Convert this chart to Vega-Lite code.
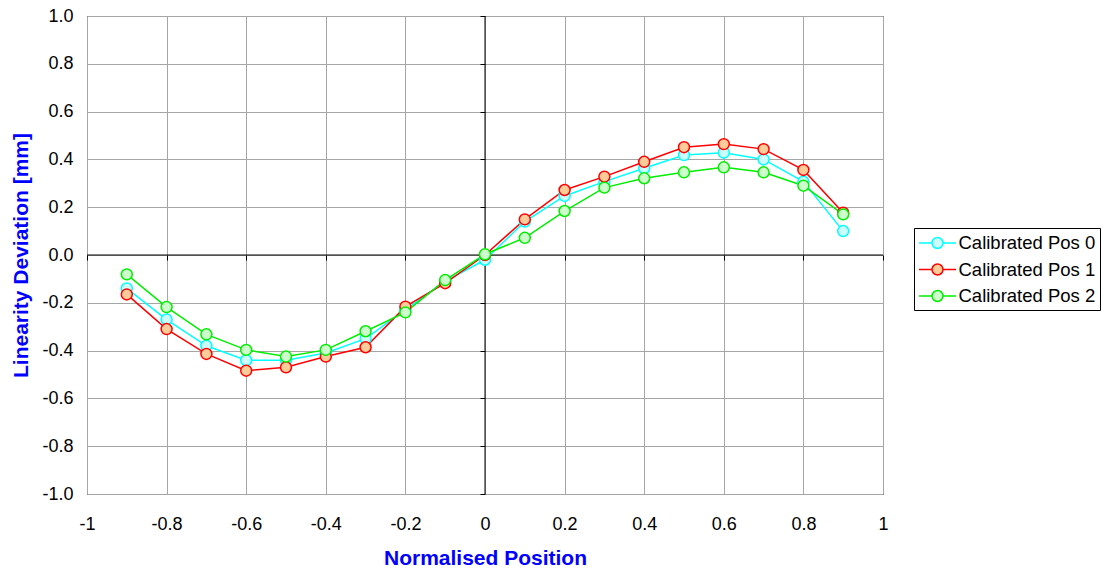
{
  "$schema": "https://vega.github.io/schema/vega-lite/v6.json",
  "width": 796,
  "height": 478,
  "autosize": "none",
  "padding": {"left": 87, "top": 16, "right": 220, "bottom": 78},
  "background": "white",
  "config": {
    "view": {"stroke": "black", "strokeWidth": 1},
    "font": "Liberation Sans"
  },
  "resolve": {"axis": {"x": "independent", "y": "independent"}},
  "data": {
    "values": [
      {"pos": -0.9, "dev": -0.14, "series": "Calibrated Pos 0"},
      {"pos": -0.8, "dev": -0.27, "series": "Calibrated Pos 0"},
      {"pos": -0.7, "dev": -0.38, "series": "Calibrated Pos 0"},
      {"pos": -0.6, "dev": -0.44, "series": "Calibrated Pos 0"},
      {"pos": -0.5, "dev": -0.44, "series": "Calibrated Pos 0"},
      {"pos": -0.4, "dev": -0.41, "series": "Calibrated Pos 0"},
      {"pos": -0.3, "dev": -0.35, "series": "Calibrated Pos 0"},
      {"pos": -0.2, "dev": -0.23, "series": "Calibrated Pos 0"},
      {"pos": -0.1, "dev": -0.11, "series": "Calibrated Pos 0"},
      {"pos": 0.0, "dev": -0.02, "series": "Calibrated Pos 0"},
      {"pos": 0.1, "dev": 0.14, "series": "Calibrated Pos 0"},
      {"pos": 0.2, "dev": 0.247, "series": "Calibrated Pos 0"},
      {"pos": 0.3, "dev": 0.307, "series": "Calibrated Pos 0"},
      {"pos": 0.4, "dev": 0.363, "series": "Calibrated Pos 0"},
      {"pos": 0.5, "dev": 0.418, "series": "Calibrated Pos 0"},
      {"pos": 0.6, "dev": 0.428, "series": "Calibrated Pos 0"},
      {"pos": 0.7, "dev": 0.40, "series": "Calibrated Pos 0"},
      {"pos": 0.8, "dev": 0.307, "series": "Calibrated Pos 0"},
      {"pos": 0.9, "dev": 0.10, "series": "Calibrated Pos 0"},
      {"pos": -0.9, "dev": -0.165, "series": "Calibrated Pos 1"},
      {"pos": -0.8, "dev": -0.31, "series": "Calibrated Pos 1"},
      {"pos": -0.7, "dev": -0.414, "series": "Calibrated Pos 1"},
      {"pos": -0.6, "dev": -0.484, "series": "Calibrated Pos 1"},
      {"pos": -0.5, "dev": -0.47, "series": "Calibrated Pos 1"},
      {"pos": -0.4, "dev": -0.425, "series": "Calibrated Pos 1"},
      {"pos": -0.3, "dev": -0.386, "series": "Calibrated Pos 1"},
      {"pos": -0.2, "dev": -0.216, "series": "Calibrated Pos 1"},
      {"pos": -0.1, "dev": -0.118, "series": "Calibrated Pos 1"},
      {"pos": 0.0, "dev": 0.0, "series": "Calibrated Pos 1"},
      {"pos": 0.1, "dev": 0.149, "series": "Calibrated Pos 1"},
      {"pos": 0.2, "dev": 0.272, "series": "Calibrated Pos 1"},
      {"pos": 0.3, "dev": 0.328, "series": "Calibrated Pos 1"},
      {"pos": 0.4, "dev": 0.39, "series": "Calibrated Pos 1"},
      {"pos": 0.5, "dev": 0.451, "series": "Calibrated Pos 1"},
      {"pos": 0.6, "dev": 0.464, "series": "Calibrated Pos 1"},
      {"pos": 0.7, "dev": 0.443, "series": "Calibrated Pos 1"},
      {"pos": 0.8, "dev": 0.356, "series": "Calibrated Pos 1"},
      {"pos": 0.9, "dev": 0.177, "series": "Calibrated Pos 1"},
      {"pos": -0.9, "dev": -0.081, "series": "Calibrated Pos 2"},
      {"pos": -0.8, "dev": -0.218, "series": "Calibrated Pos 2"},
      {"pos": -0.7, "dev": -0.332, "series": "Calibrated Pos 2"},
      {"pos": -0.6, "dev": -0.397, "series": "Calibrated Pos 2"},
      {"pos": -0.5, "dev": -0.425, "series": "Calibrated Pos 2"},
      {"pos": -0.4, "dev": -0.397, "series": "Calibrated Pos 2"},
      {"pos": -0.3, "dev": -0.319, "series": "Calibrated Pos 2"},
      {"pos": -0.2, "dev": -0.24, "series": "Calibrated Pos 2"},
      {"pos": -0.1, "dev": -0.105, "series": "Calibrated Pos 2"},
      {"pos": 0.0, "dev": 0.003, "series": "Calibrated Pos 2"},
      {"pos": 0.1, "dev": 0.072, "series": "Calibrated Pos 2"},
      {"pos": 0.2, "dev": 0.184, "series": "Calibrated Pos 2"},
      {"pos": 0.3, "dev": 0.282, "series": "Calibrated Pos 2"},
      {"pos": 0.4, "dev": 0.321, "series": "Calibrated Pos 2"},
      {"pos": 0.5, "dev": 0.346, "series": "Calibrated Pos 2"},
      {"pos": 0.6, "dev": 0.367, "series": "Calibrated Pos 2"},
      {"pos": 0.7, "dev": 0.346, "series": "Calibrated Pos 2"},
      {"pos": 0.8, "dev": 0.29, "series": "Calibrated Pos 2"},
      {"pos": 0.9, "dev": 0.17, "series": "Calibrated Pos 2"}
    ]
  },
  "layer": [
    {
      "data": {"values": [{}]},
      "mark": {"type": "rule", "color": "black", "strokeWidth": 1},
      "encoding": {
        "x": {
          "datum": 0, "type": "quantitative",
          "axis": {
            "orient": "bottom", "offset": -239,
            "values": [-1, -0.8, -0.6, -0.4, -0.2, 0, 0.2, 0.4, 0.6, 0.8, 1],
            "labels": false, "grid": false, "domain": false,
            "ticks": true, "tickSize": 5, "tickColor": "black", "tickWidth": 1,
            "title": null
          }
        }
      }
    },
    {
      "data": {"values": [{}]},
      "mark": {"type": "rule", "color": "black", "strokeWidth": 1},
      "encoding": {
        "y": {
          "datum": 0, "type": "quantitative",
          "axis": {
            "orient": "left", "offset": -398,
            "values": [-1, -0.8, -0.6, -0.4, -0.2, 0, 0.2, 0.4, 0.6, 0.8, 1],
            "labels": false, "grid": false, "domain": false,
            "ticks": true, "tickSize": 5, "tickColor": "black", "tickWidth": 1,
            "title": null
          }
        }
      }
    },
    {
      "mark": {"type": "line", "strokeWidth": 1.5},
      "encoding": {
        "x": {
          "field": "pos", "type": "quantitative",
          "scale": {"domain": [-1, 1], "nice": false, "zero": false},
          "axis": {
            "orient": "bottom",
            "values": [-1, -0.8, -0.6, -0.4, -0.2, 0, 0.2, 0.4, 0.6, 0.8, 1],
            "labelExpr": "datum.value < 0 ? '-' + format(-datum.value, '') : format(datum.value, '')",
            "grid": true, "gridColor": "#a6a6a6", "gridWidth": 1,
            "ticks": false, "domain": false,
            "labelFlush": false, "labelOverlap": false, "labelBound": false,
            "labelPadding": 21, "labelFontSize": 18, "labelColor": "black",
            "labelFont": "Liberation Sans",
            "title": "Normalised Position", "titleColor": "#0000ff",
            "titleFontSize": 21, "titleFontWeight": "bold", "titleFont": "Liberation Sans",
            "titlePadding": 14
          }
        },
        "y": {
          "field": "dev", "type": "quantitative",
          "scale": {"domain": [-1, 1], "nice": false, "zero": false},
          "axis": {
            "orient": "left",
            "values": [-1, -0.8, -0.6, -0.4, -0.2, 0, 0.2, 0.4, 0.6, 0.8, 1],
            "labelExpr": "datum.value < 0 ? '-' + format(-datum.value, '.1f') : format(datum.value, '.1f')",
            "grid": true, "gridColor": "#a6a6a6", "gridWidth": 1,
            "ticks": false, "domain": false,
            "labelFlush": false, "labelOverlap": false, "labelBound": false,
            "labelPadding": 14, "labelFontSize": 18, "labelColor": "black",
            "labelFont": "Liberation Sans",
            "title": "Linearity Deviation [mm]", "titleColor": "#0000ff",
            "titleFontSize": 21, "titleFontWeight": "bold", "titleFont": "Liberation Sans",
            "titlePadding": 10
          }
        },
        "stroke": {
          "field": "series", "type": "nominal",
          "scale": {"domain": ["Calibrated Pos 0", "Calibrated Pos 1", "Calibrated Pos 2"], "range": ["#00ffff", "#ff0000", "#00ee00"]}
        },
        "order": {"field": "pos", "type": "quantitative"}
      }
    },
    {
      "mark": {"type": "point", "filled": true, "size": 120, "strokeWidth": 1.5, "opacity": 1},
      "encoding": {
        "x": {"field": "pos", "type": "quantitative", "axis": null},
        "y": {"field": "dev", "type": "quantitative", "axis": null},
        "stroke": {
          "field": "series", "type": "nominal",
          "legend": {
            "title": null,
            "orient": "none",
            "legendX": 827,
            "legendY": 212,
            "symbolType": "M-1.85,0H-0.55M0.55,0H1.85M-0.55,0A0.55,0.55 0 1,1 0.55,0A0.55,0.55 0 1,1 -0.55,0Z",
            "symbolSize": 400,
            "symbolOffset": 8.5,
            "symbolStrokeWidth": 1.5,
            "labelFontSize": 18.5,
            "labelFont": "Liberation Sans",
            "labelColor": "black",
            "labelOffset": 10,
            "strokeColor": "black",
            "fillColor": "white",
            "padding": 4,
            "rowPadding": 5.5
          }
        },
        "fill": {
          "field": "series", "type": "nominal",
          "scale": {"domain": ["Calibrated Pos 0", "Calibrated Pos 1", "Calibrated Pos 2"], "range": ["#ccffff", "#ffcc99", "#ccffcc"]},
          "legend": {
            "title": null,
            "orient": "none",
            "legendX": 827,
            "legendY": 212,
            "symbolType": "M-1.85,0H-0.55M0.55,0H1.85M-0.55,0A0.55,0.55 0 1,1 0.55,0A0.55,0.55 0 1,1 -0.55,0Z",
            "symbolSize": 400,
            "symbolOffset": 8.5,
            "symbolStrokeWidth": 1.5,
            "labelFontSize": 18.5,
            "labelFont": "Liberation Sans",
            "labelColor": "black",
            "labelOffset": 10,
            "strokeColor": "black",
            "fillColor": "white",
            "padding": 4,
            "rowPadding": 5.5
          }
        }
      }
    }
  ]
}
